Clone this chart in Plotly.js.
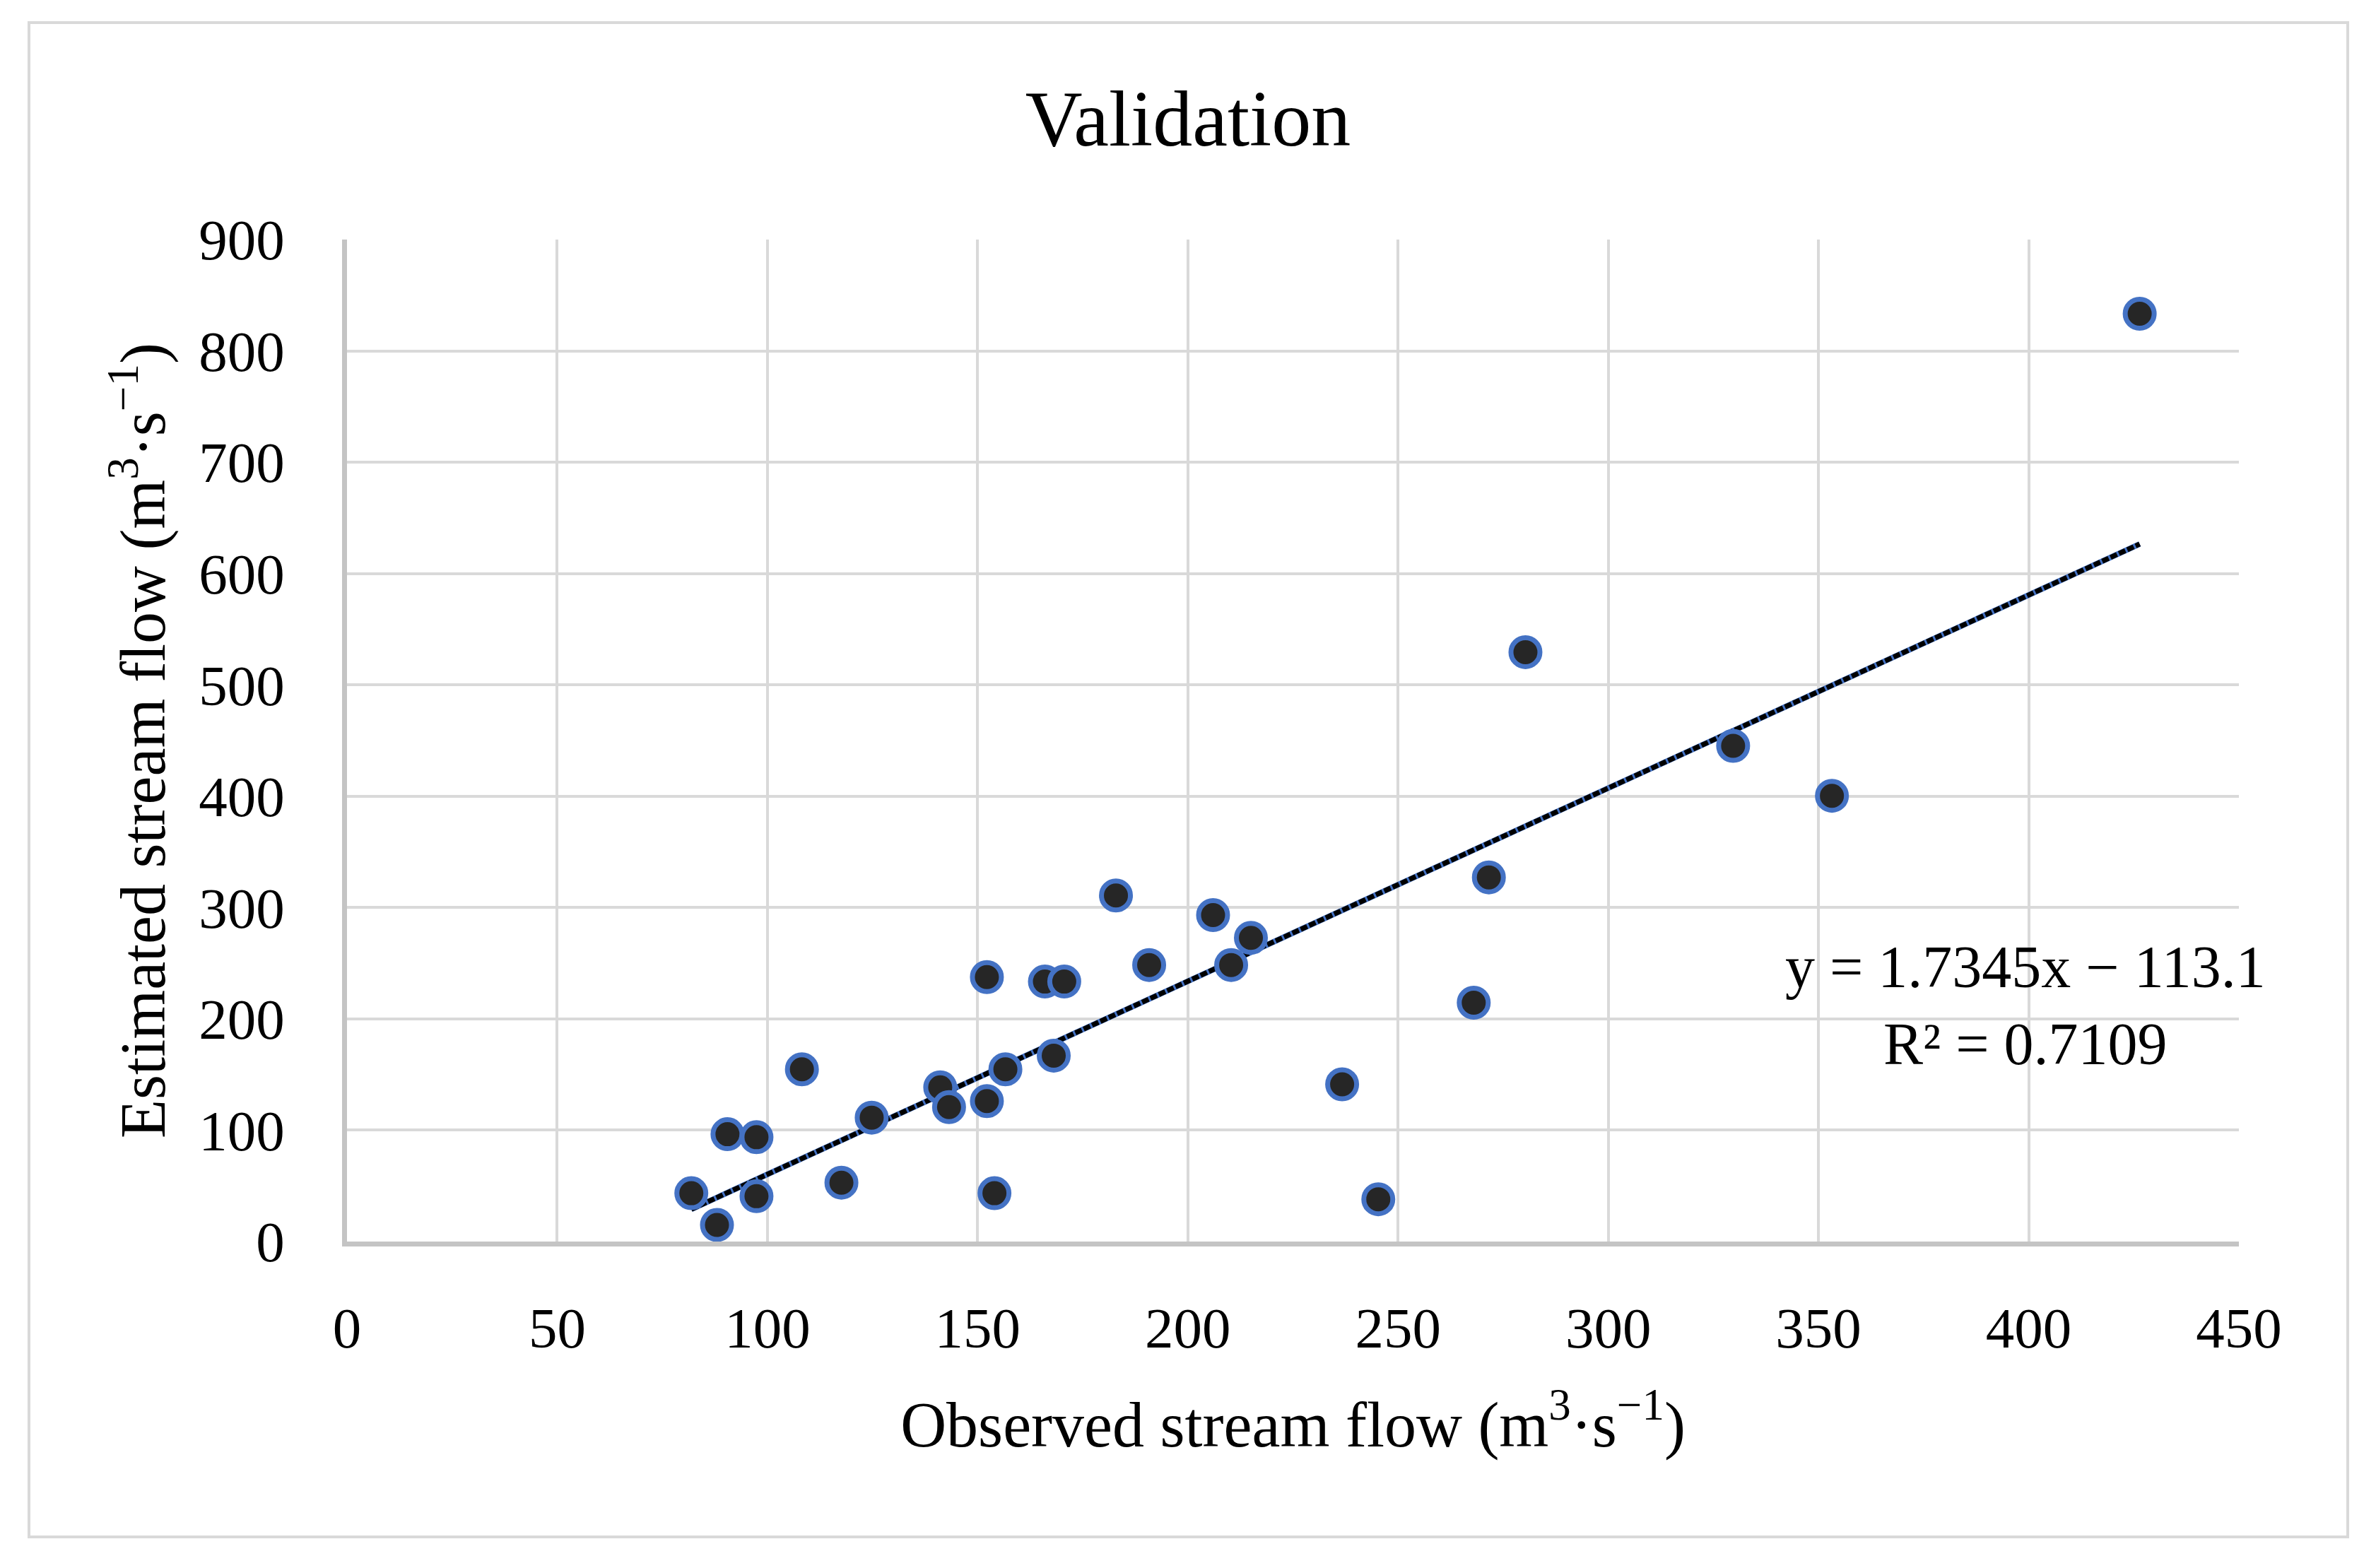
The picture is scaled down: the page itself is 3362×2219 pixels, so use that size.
<!DOCTYPE html>
<html>
<head>
<meta charset="utf-8">
<script src="https://cdn.plot.ly/plotly-3.0.1.min.js"></script>
<style>
  html, body { margin: 0; padding: 0; background: #ffffff; }
  #chart { width: 3362px; height: 2219px; position: relative; }
  #frame { position: absolute; left: 39px; top: 30px; width: 3277px; height: 2139px;
           border: 4px solid #d9d9d9; pointer-events: none; }
</style>
</head>
<body>
<div id="chart"></div>
<div id="frame"></div>
<script>
// Observed vs estimated stream flow (m3/s)
const observed = [81.9, 88.0, 90.5, 97.4, 97.4, 108.2, 117.6, 124.8, 141.1, 143.2,
                  152.2, 152.2, 154.0, 156.6, 166.0, 170.6, 168.1, 182.9, 190.8, 206.0,
                  210.3, 215.0, 236.7, 245.3, 268.0, 271.6, 280.3, 329.7, 353.2, 426.4];
const estimated = [43.4, 14.9, 96.4, 93.7, 40.7, 154.7, 52.9, 111.3, 138.5, 120.8,
                   237.5, 126.2, 43.4, 154.7, 233.5, 233.5, 167.0, 310.8, 248.4, 293.2,
                   248.4, 272.8, 141.2, 38.0, 214.5, 327.1, 529.4, 445.2, 400.4, 833.4];
// Linear trendline as printed on the chart
const slope = 1.7345;
const intercept = -113.1;
const r2 = 0.7109;
const xTicks = [0, 50, 100, 150, 200, 250, 300, 350, 400, 450];
const yTicks = [0, 100, 200, 300, 400, 500, 600, 700, 800, 900];

const xMin = Math.min(...observed), xMax = Math.max(...observed);
const trendX = [xMin, xMax];
const trendY = trendX.map(v => slope * v + intercept);

const FONT = "Liberation Serif, Times New Roman, serif";

const traces = [
  { x: trendX, y: trendY, mode: 'lines', type: 'scatter',
    line: { color: '#4472c4', width: 8 }, hoverinfo: 'skip', showlegend: false },
  { x: trendX, y: trendY, mode: 'lines', type: 'scatter',
    line: { color: '#000000', width: 7, dash: '10px,3px' }, hoverinfo: 'skip', showlegend: false },
  { x: observed, y: estimated, mode: 'markers', type: 'scatter',
    marker: { size: 41, color: '#262626', line: { color: '#4472c4', width: 7 } },
    showlegend: false }
];

const layout = {
  width: 3362, height: 2219,
  paper_bgcolor: '#ffffff', plot_bgcolor: '#ffffff',
  margin: { l: 491, r: 194, t: 339, b: 462 },
  font: { family: FONT, color: '#000000' },
  title: { text: 'Validation', font: { family: FONT, size: 112, color: '#000000' },
           x: 1681 / 3362, xref: 'container', xanchor: 'center',
           y: 1 - 167 / 2219, yref: 'container', yanchor: 'middle' },
  xaxis: {
    range: [0, 450], tickvals: xTicks, ticktext: xTicks.map(String),
    showgrid: true, gridcolor: '#d9d9d9', gridwidth: 4,
    zeroline: false, showline: true, linecolor: '#c4c4c4', linewidth: 7, mirror: false,
    ticks: '', ticklabelstandoff: 46,
    tickfont: { family: FONT, size: 81, color: '#000000' },
    title: { text: 'Observed stream flow (m<sup>3</sup>·s<sup>−1</sup>)',
             font: { family: FONT, size: 90, color: '#000000' }, standoff: 62 }
  },
  yaxis: {
    range: [0, 900], tickvals: yTicks, ticktext: yTicks.map(String),
    showgrid: true, gridcolor: '#d9d9d9', gridwidth: 4,
    zeroline: false, showline: true, linecolor: '#c4c4c4', linewidth: 7,
    ticks: '', ticklabelstandoff: 65,
    tickfont: { family: FONT, size: 81, color: '#000000' },
    title: { text: 'Estimated stream flow (m<sup>3</sup>·s<sup>−1</sup>)',
             font: { family: FONT, size: 90, color: '#000000' }, standoff: 20 }
  },
  annotations: [
    { x: 399.2, y: 212, xref: 'x', yref: 'y', showarrow: false, align: 'center',
      xanchor: 'center', yanchor: 'middle',
      text: 'y = ' + slope + 'x − ' + Math.abs(intercept) + '<br>R² = ' + r2,
      font: { family: FONT, size: 84, color: '#000000' } }
  ]
};

Plotly.newPlot('chart', traces, layout, { staticPlot: true, displayModeBar: false });
</script>
</body>
</html>
